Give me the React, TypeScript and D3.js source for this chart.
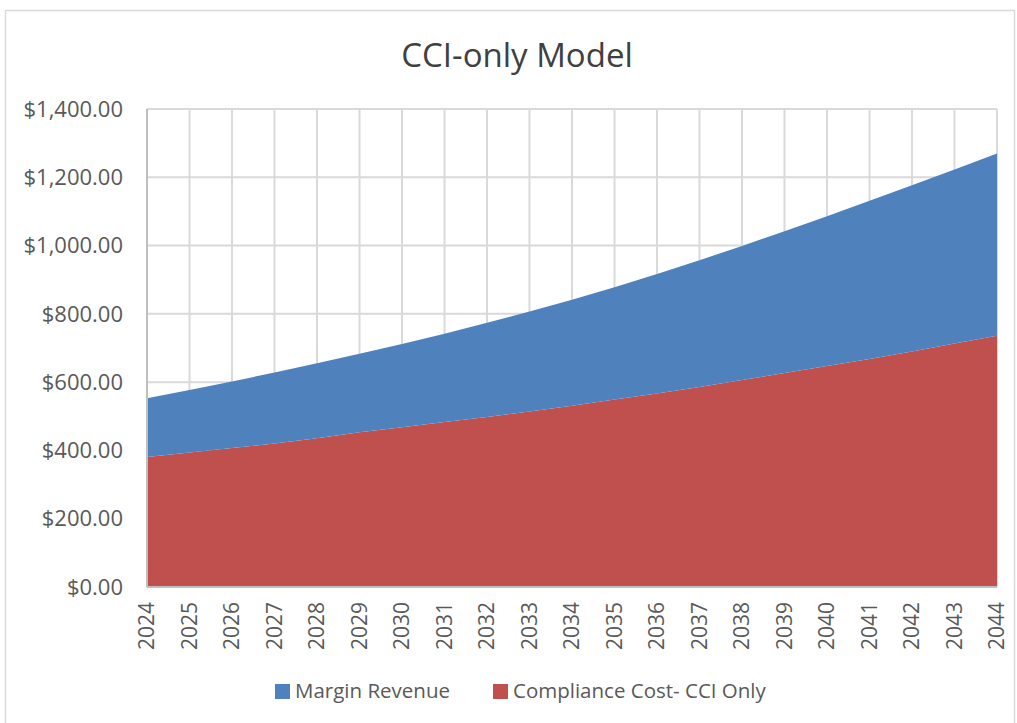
import React, { useEffect, useRef } from "react";
import * as d3 from "d3";

const years = [2024, 2025, 2026, 2027, 2028, 2029, 2030, 2031, 2032, 2033, 2034,
  2035, 2036, 2037, 2038, 2039, 2040, 2041, 2042, 2043, 2044];
const complianceCost = [381, 394, 407, 420, 436, 453, 468, 483, 498, 514, 531,
  549, 567, 586, 606, 627, 647, 668, 690, 713, 736];
const marginRevenue = [172, 183, 195, 208, 219, 230, 244, 259, 276, 293, 310,
  329, 350, 371, 393, 415, 439, 463, 487, 510, 534];
const yTicks = [0, 200, 400, 600, 800, 1000, 1200, 1400];
const seriesNames = ["Margin Revenue", "Compliance Cost- CCI Only"];
const colors = ["#4F81BD", "#C0504D"];

const W = 1017;
const H = 723;
const FONT = "'Open Sans', 'Noto Sans', sans-serif";

export default function App() {
  const ref = useRef<SVGSVGElement | null>(null);

  useEffect(() => {
    const svg = d3.select(ref.current);
    svg.selectAll("*").remove();

    const margin = { top: 109, left: 147, right: 20, bottom: 136 };
    const width = W - margin.left - margin.right;
    const height = H - margin.top - margin.bottom;

    // outer chart border
    svg.append("rect")
      .attr("x", 5.5).attr("y", 10.5)
      .attr("width", W - 8).attr("height", H - 9)
      .attr("fill", "#fff").attr("stroke", "#d9d9d9").attr("stroke-width", 1.5);

    svg.append("text")
      .attr("x", 517).attr("y", 67)
      .attr("text-anchor", "middle")
      .attr("font-family", FONT).attr("font-size", 33)
      .attr("fill", "#404040")
      .text("CCI-only Model");

    const g = svg.append("g").attr("transform", `translate(${margin.left},${margin.top})`);

    const x = d3.scaleLinear().domain([years[0], years[years.length - 1]]).range([0, width]);
    const y = d3.scaleLinear().domain([0, 1400]).range([height, 0]);

    // gridlines
    g.append("g").selectAll("line").data(yTicks).join("line")
      .attr("x1", 0).attr("x2", width)
      .attr("y1", d => y(d)).attr("y2", d => y(d))
      .attr("stroke", "#d9d9d9").attr("stroke-width", 2);
    g.append("g").selectAll("line").data(years).join("line")
      .attr("x1", d => x(d)).attr("x2", d => x(d))
      .attr("y1", 0).attr("y2", height)
      .attr("stroke", "#d9d9d9").attr("stroke-width", 2);

    const table = years.map((yr, i) => ({
      year: yr,
      compliance: complianceCost[i],
      margin: marginRevenue[i],
    }));
    const stacked = d3.stack<any>().keys(["compliance", "margin"])(table);

    const area = d3.area<any>()
      .x(d => x(d.data.year))
      .y0(d => y(d[0]))
      .y1(d => y(d[1]));

    g.selectAll("path.area").data(stacked).join("path")
      .attr("class", "area")
      .attr("d", d => area(d as any))
      .attr("fill", (d, i) => (i === 0 ? colors[1] : colors[0]));

    // axis lines
    g.append("line")
      .attr("x1", 0).attr("x2", 0).attr("y1", 0).attr("y2", height)
      .attr("stroke", "#bfbfbf").attr("stroke-width", 2);
    g.append("line")
      .attr("x1", 0).attr("x2", width).attr("y1", height).attr("y2", height)
      .attr("stroke", "#bfbfbf").attr("stroke-width", 2);

    const fmt = d3.format("$,.2f");
    g.append("g").selectAll("text").data(yTicks).join("text")
      .attr("x", -24).attr("y", d => y(d))
      .attr("dy", "0.35em")
      .attr("text-anchor", "end")
      .attr("font-family", FONT).attr("font-size", 22)
      .attr("fill", "#595959")
      .text(d => fmt(d));

    g.append("g").selectAll("text").data(years).join("text")
      .attr("transform", d => `translate(${x(d)},${height + 15}) rotate(-90)`)
      .attr("dy", "0.35em")
      .attr("text-anchor", "end")
      .attr("font-family", FONT).attr("font-size", 21)
      .attr("fill", "#595959")
      .text(d => String(d));

    // legend
    const legendX = [275, 493];
    seriesNames.forEach((name, i) => {
      svg.append("rect")
        .attr("x", legendX[i]).attr("y", 684)
        .attr("width", 15).attr("height", 15)
        .attr("fill", colors[i]);
      svg.append("text")
        .attr("x", legendX[i] + 20).attr("y", 691)
        .attr("dy", "0.35em")
        .attr("font-family", FONT).attr("font-size", 20.5)
        .attr("fill", "#595959")
        .text(name);
    });
  }, []);

  return (
    <div style={{ position: "absolute", left: 0, top: 0 }}>
      <svg ref={ref} width={W} height={H}></svg>
    </div>
  );
}
